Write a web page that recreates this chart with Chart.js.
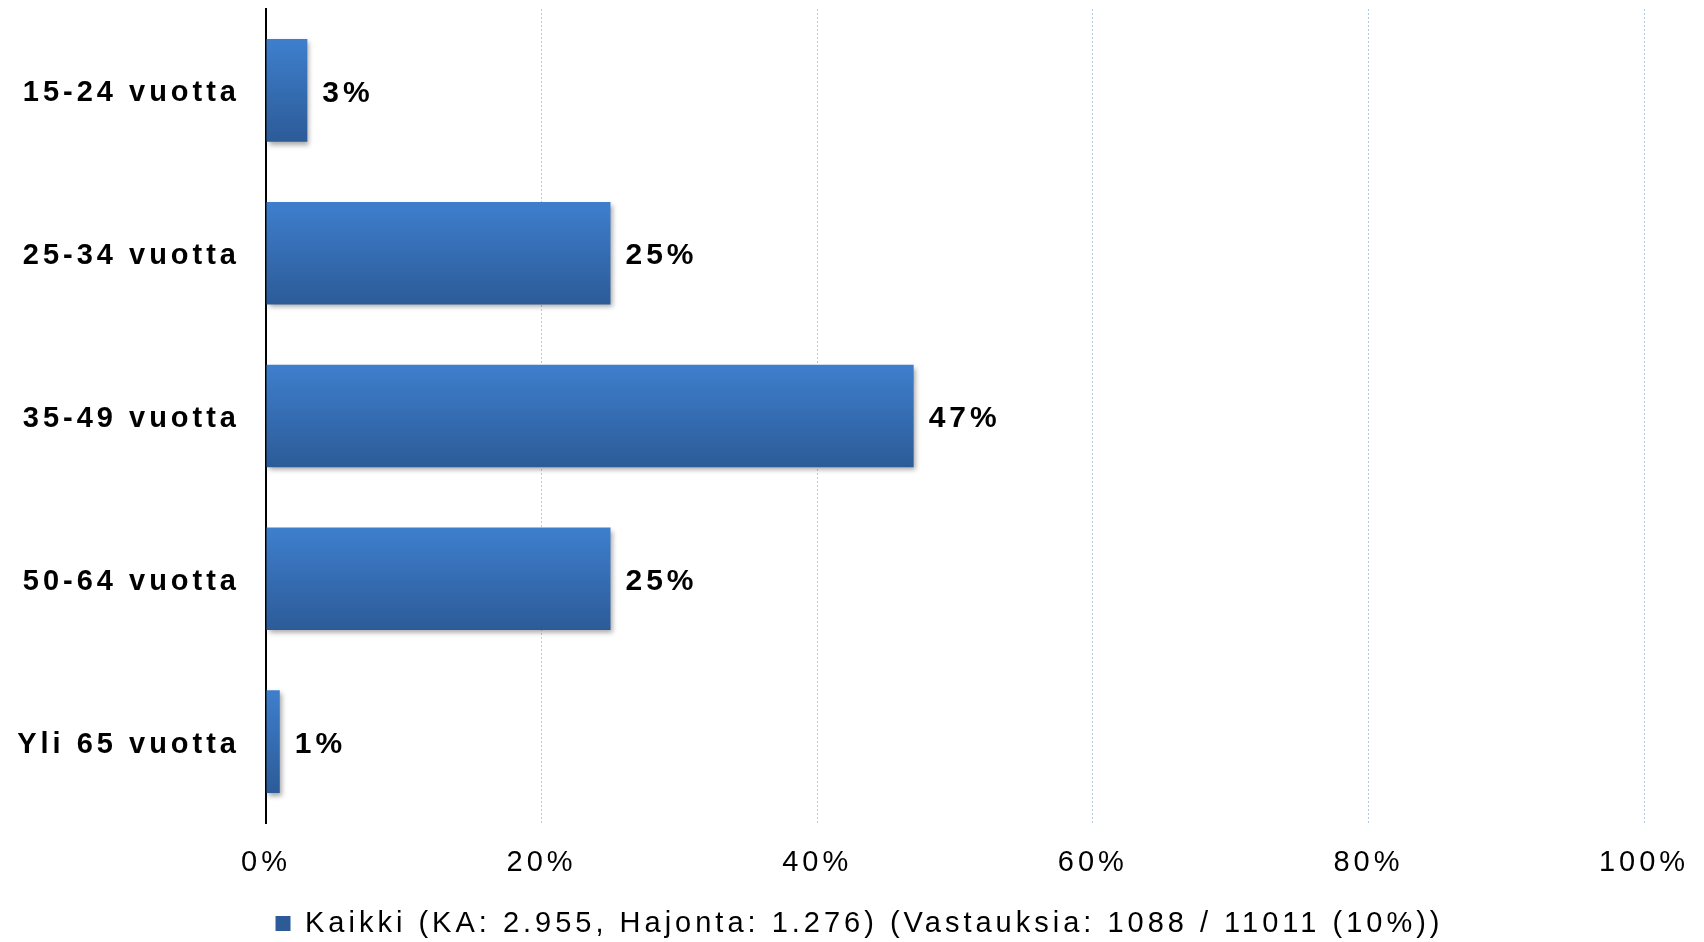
<!DOCTYPE html>
<html>
<head>
<meta charset="utf-8">
<script src="https://cdn.jsdelivr.net/npm/chart.js@4"></script>
<style>
    html, body { margin: 0; padding: 0; background: #ffffff; }
    #wrap { width: 1704px; height: 942px; position: relative; }
</style>
</head>
<body>
<div id="wrap"><canvas id="chartIkä"></canvas></div>
<script>
// Datos
const kategoriat = ['15-24 vuotta', '25-34 vuotta', '35-49 vuotta', '50-64 vuotta', 'Yli 65 vuotta'];
const arvot = [3, 25, 47, 25, 1];
const sarjanNimi = 'Kaikki (KA: 2.955, Hajonta: 1.276) (Vastauksia: 1088 / 11011 (10%))';
const xTicks = [0, 20, 40, 60, 80, 100];

const FUENTE = '"Liberation Sans", Arial, sans-serif';
const BAR_PCT = 0.63;

Chart.defaults.font.family = FUENTE;
Chart.defaults.color = '#000000';

// espaciado de letras como en el original
const espaciado = {
    id: 'espaciado',
    beforeLayout(chart) { chart.ctx.letterSpacing = '4px'; },
    beforeDraw(chart) { chart.ctx.letterSpacing = '4px'; }
};

// sombra de barras + etiquetas de valor
const etiquetas = {
    id: 'etiquetas',
    beforeDatasetsDraw(chart) {
        const ctx = chart.ctx;
        ctx.save();
        ctx.shadowColor = 'rgba(0,0,0,0.35)';
        ctx.shadowBlur = 5;
        ctx.shadowOffsetX = 2;
        ctx.shadowOffsetY = 3;
    },
    afterDatasetsDraw(chart) {
        const ctx = chart.ctx;
        ctx.restore();
        ctx.save();
        ctx.font = 'bold 30px ' + FUENTE;
        ctx.fillStyle = '#000000';
        ctx.textAlign = 'left';
        ctx.textBaseline = 'middle';
        const meta = chart.getDatasetMeta(0);
        meta.data.forEach((bar, i) => {
            ctx.fillText(arvot[i] + '%', bar.x + 15, bar.y + 3);
        });
        ctx.restore();
    }
};

function colorBarra(c) {
    const chart = c.chart;
    const y = chart.scales.y;
    if (c.type !== 'data' || !chart.chartArea || !y) return '#3670b8';
    const mid = y.getPixelForValue(c.dataIndex);
    const half = (y.height / kategoriat.length) * BAR_PCT / 2;
    const g = chart.ctx.createLinearGradient(0, mid - half, 0, mid + half);
    g.addColorStop(0, '#3e7fcd');
    g.addColorStop(1, '#2c5b98');
    return g;
}

function renderChart() {
    const ctx = document.getElementById('chartIkä').getContext('2d');
    new Chart(ctx, {
        type: 'bar',
        data: {
            labels: kategoriat,
            datasets: [{
                label: sarjanNimi,
                data: arvot,
                backgroundColor: colorBarra,
                borderWidth: 0,
                barPercentage: BAR_PCT,
                categoryPercentage: 1
            }]
        },
        options: {
            responsive: true,
            maintainAspectRatio: false,
            animation: false,
            indexAxis: 'y',
            layout: { padding: { top: 9, right: 0, left: 15, bottom: -6 } },
            plugins: {
                legend: {
                    position: 'bottom',
                    labels: {
                        boxWidth: 15,
                        boxHeight: 15,
                        padding: 4,
                        font: { size: 29 },
                        color: '#000000'
                    }
                },
                tooltip: { enabled: false }
            },
            scales: {
                x: {
                    min: 0,
                    max: 100,
                    afterBuildTicks: (s) => { s.ticks = xTicks.map(v => ({ value: v })); },
                    afterFit: (s) => {
                        s.height = 82;
                        s.paddingLeft = 0;
                        s.paddingRight = 60;
                    },
                    grid: {
                        color: (c) => c.tick && c.tick.value === 0 ? 'rgba(0,0,0,0)' : '#b4cbe8',
                        lineWidth: 1,
                        drawTicks: false
                    },
                    border: { display: false, dash: [2, 2] },
                    ticks: {
                        padding: 23,
                        font: { size: 29 },
                        color: '#000000',
                        callback: (v) => v + '%'
                    }
                },
                y: {
                    afterFit: (s) => {
                        s.width = 251;
                        s.paddingTop = 0;
                        s.paddingBottom = 0;
                    },
                    grid: { display: false, drawTicks: false },
                    border: { display: true, color: '#000000', width: 2 },
                    ticks: {
                        padding: 26,
                        labelOffset: 3,
                        font: { size: 29, weight: 'bold' },
                        color: '#000000'
                    }
                }
            }
        },
        plugins: [espaciado, etiquetas]
    });
}

renderChart();
</script>
</body>
</html>
